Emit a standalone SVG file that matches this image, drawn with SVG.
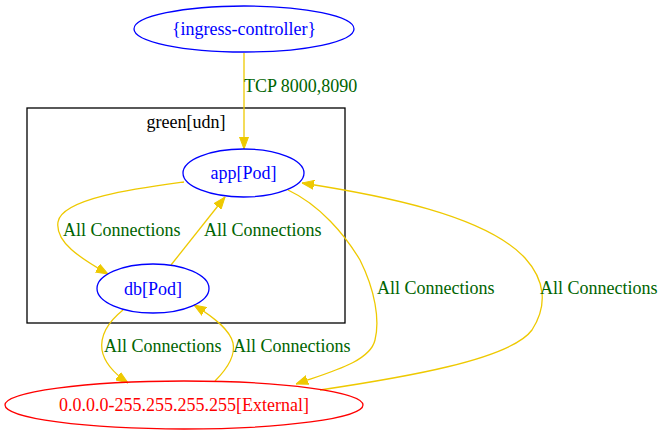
<svg xmlns="http://www.w3.org/2000/svg" width="667" height="435" viewBox="0 0 667 435">
<style>
text{font-family:"Liberation Serif","Times New Roman",serif;font-size:18px}
.node{fill:none;stroke:#0000ff;stroke-width:1.3}
.ext{fill:none;stroke:#ff0000;stroke-width:1.3}
.nt{fill:#0000ff;text-anchor:middle}
.et{fill:#ff0000;text-anchor:middle}
.edge{fill:none;stroke:#eec900;stroke-width:1.3}
.lbl{fill:#006400}
</style>
<defs>
<marker id="ah" markerWidth="12" markerHeight="10" refX="12" refY="5" orient="auto" markerUnits="userSpaceOnUse">
<path d="M0,0.5 L12,5 L0,9.5 Z" fill="#eec900" stroke="#eec900" stroke-width="1"/>
</marker>
</defs>
<rect width="667" height="435" fill="#ffffff"/>
<g id="cluster_green">
<rect x="27" y="108" width="318" height="215" fill="none" stroke="#000000" stroke-width="1.3"/>
<text x="186" y="128" text-anchor="middle" fill="#000000">green[udn]</text>
</g>
<g id="edges">
<path class="edge" d="M244,53 L244,149" marker-end="url(#ah)"/>
<path class="edge" d="M184,182 C140,188 62,198 58,222 C55,242 80,258 108,274" marker-end="url(#ah)"/>
<path class="edge" d="M171,265 L225,197" marker-end="url(#ah)"/>
<path class="edge" d="M288,190 C320,205 345,235 360,260 C375,290 380,320 375,340 C370,362 330,372 296,384" marker-end="url(#ah)"/>
<path class="edge" d="M320,390 C400,378 510,360 532,330 C548,305 545,280 525,258 C485,215 380,195 302,183" marker-end="url(#ah)"/>
<path class="edge" d="M123,310 C108,322 100,335 102,350 C104,362 115,374 128,383" marker-end="url(#ah)"/>
<path class="edge" d="M215,381 C226,370 236,357 233,343 C230,330 215,318 194,305" marker-end="url(#ah)"/>
<text class="lbl" x="244" y="92">TCP 8000,8090</text>
<text class="lbl" x="63" y="236">All Connections</text>
<text class="lbl" x="204" y="236">All Connections</text>
<text class="lbl" x="377" y="294">All Connections</text>
<text class="lbl" x="540" y="294">All Connections</text>
<text class="lbl" x="104" y="352">All Connections</text>
<text class="lbl" x="233" y="352">All Connections</text>
</g>
<g id="ingress">
<ellipse class="node" cx="244" cy="29" rx="110" ry="23"/>
<text class="nt" x="244" y="35">{ingress-controller}</text>
</g>
<g id="app">
<ellipse class="node" cx="243.5" cy="173" rx="60.5" ry="24"/>
<text class="nt" x="243.5" y="179">app[Pod]</text>
</g>
<g id="db">
<ellipse class="node" cx="153" cy="288.5" rx="56" ry="24.5"/>
<text class="nt" x="153" y="295">db[Pod]</text>
</g>
<g id="external">
<ellipse class="ext" cx="184" cy="405" rx="179" ry="24"/>
<text class="et" x="184" y="411">0.0.0.0-255.255.255.255[External]</text>
</g>
</svg>
